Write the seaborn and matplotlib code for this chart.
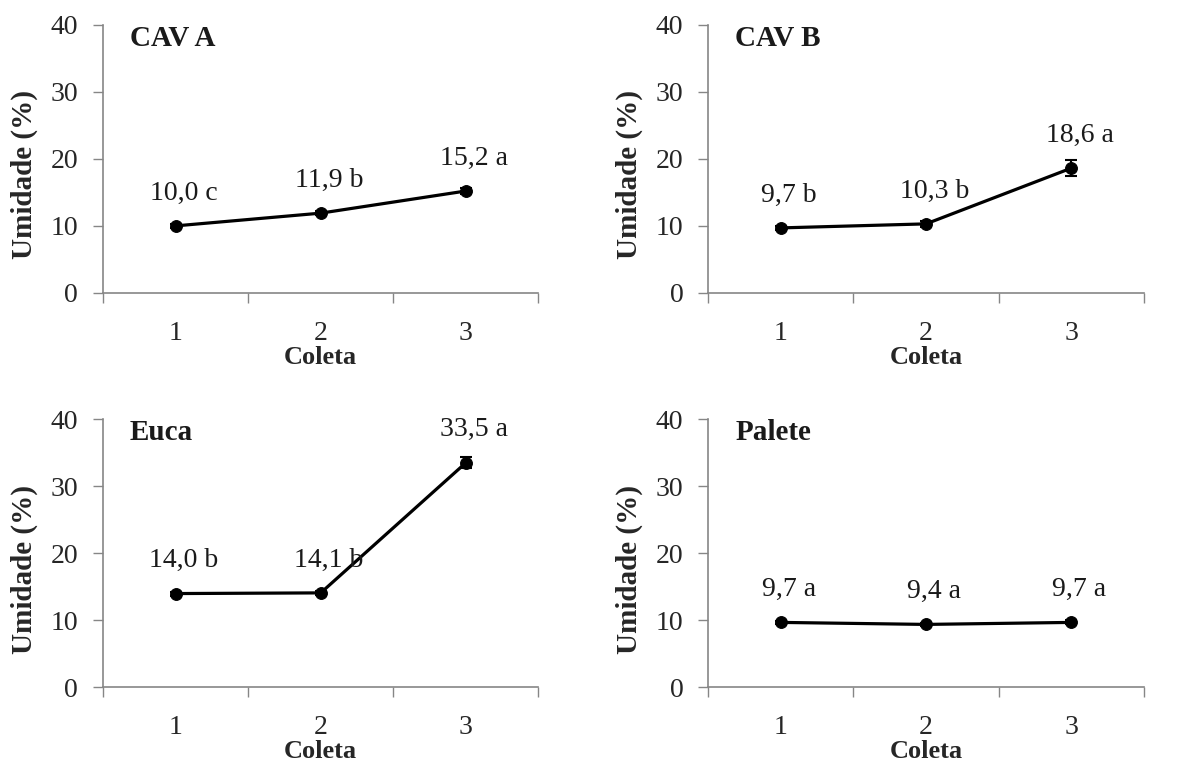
import matplotlib
matplotlib.use("Agg")
import matplotlib.pyplot as plt
import seaborn as sns
import pandas as pd

# dados
coletas = [1, 2, 3]
tratamentos = ["CAV A", "CAV B", "Euca", "Palete"]
umidade_cav_a = [10.0, 11.9, 15.2]
umidade_cav_b = [9.7, 10.3, 18.6]
umidade_euca = [14.0, 14.1, 33.5]
umidade_palete = [9.7, 9.4, 9.7]
erro_cav_a = [0.3, 0.3, 0.4]
erro_cav_b = [0.3, 0.4, 1.2]
erro_euca = [0.3, 0.3, 0.8]
erro_palete = [0.2, 0.2, 0.3]
letras_cav_a = ["c", "b", "a"]
letras_cav_b = ["b", "b", "a"]
letras_euca = ["b", "b", "a"]
letras_palete = ["a", "a", "a"]

valores = [umidade_cav_a, umidade_cav_b, umidade_euca, umidade_palete]
erros = [erro_cav_a, erro_cav_b, erro_euca, erro_palete]
letras = [letras_cav_a, letras_cav_b, letras_euca, letras_palete]

sns.set_style("white")
plt.rcParams["font.family"] = ["Liberation Serif", "DejaVu Serif"]
plt.rcParams["text.color"] = "#1a1a1a"

cinza = "#868686"
fs = 20

fig, axes = plt.subplots(2, 2, figsize=(11.84, 7.69), dpi=100)
fig.subplots_adjust(left=0.087, right=0.966, top=0.968, bottom=0.106,
                    wspace=0.39, hspace=0.47)

for ax, nome, vals, errs, lets in zip(axes.flat, tratamentos, valores, erros, letras):
    df = pd.DataFrame({"pos": range(len(coletas)), "umidade": vals})
    sns.lineplot(data=df, x="pos", y="umidade", ax=ax, color="black",
                 linewidth=2.3, marker="o", markersize=8.5,
                 markeredgecolor="black", markerfacecolor="black")
    ax.errorbar(df["pos"], df["umidade"], yerr=errs, fmt="none",
                ecolor="black", elinewidth=1.5, capsize=4, capthick=1.5)

    for _, linha in df.iterrows():
        i = int(linha["pos"])
        ax.annotate(f"{vals[i]:.1f}".replace(".", ",") + f" {lets[i]}",
                    xy=(i, vals[i]), xytext=(6, 19), textcoords="offset points",
                    ha="center", va="baseline", fontsize=fs)

    ax.text(0.062, 1.0, nome, transform=ax.transAxes, ha="left", va="top",
            fontsize=fs + 1, fontweight="bold")

    ax.set_xlim(-0.5, len(coletas) - 0.5)
    ax.set_ylim(0, 40)
    ax.set_yticks([0, 10, 20, 30, 40])
    # ticks nas divisões das categorias, rótulos no centro (estilo Excel)
    ax.set_xticks([-0.5, 0.5, 1.5, 2.5])
    ax.set_xticklabels([])
    ax.set_xticks(range(len(coletas)), minor=True)
    ax.set_xticklabels([str(c) for c in coletas], minor=True)
    ax.tick_params(axis="x", which="major", direction="out", length=7,
                   width=1, color=cinza, bottom=True)
    ax.tick_params(axis="x", which="minor", length=0, pad=20, labelsize=fs)
    ax.tick_params(axis="y", direction="out", length=7, width=1, color=cinza,
                   left=True, pad=11, labelsize=fs)

    for lado in ["top", "right"]:
        ax.spines[lado].set_visible(False)
    for lado in ["left", "bottom"]:
        ax.spines[lado].set_color(cinza)
        ax.spines[lado].set_linewidth(1.2)

    ax.set_xlabel("Coleta", fontsize=19, fontweight="bold", labelpad=0)
    ax.set_ylabel("Umidade (%)", fontsize=fs + 1, fontweight="bold")
    ax.yaxis.set_label_coords(-0.150, 0.44)

fig.savefig("out.png", dpi=100, facecolor="white")
